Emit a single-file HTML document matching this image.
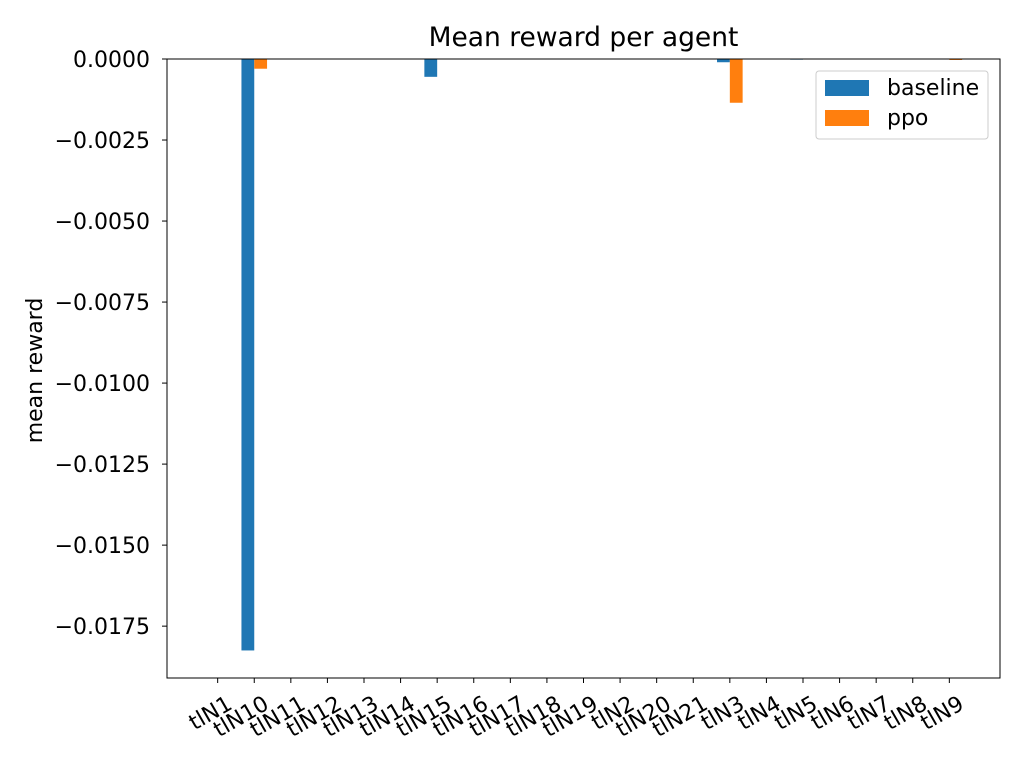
<!DOCTYPE html>
<html><head><meta charset="utf-8"><style>
body{margin:0;background:#fff;font-family:"DejaVu Sans","Liberation Sans",sans-serif;}
</style></head><body>
<svg id="chart" width="1024" height="768" xmlns="http://www.w3.org/2000/svg">
<rect width="1024" height="768" fill="#fff"/>
<g id="plot"></g>
</svg>
<script>
const categories=["tlN1","tlN10","tlN11","tlN12","tlN13","tlN14","tlN15","tlN16","tlN17","tlN18","tlN19","tlN2","tlN20","tlN21","tlN3","tlN4","tlN5","tlN6","tlN7","tlN8","tlN9"];
const baseline=[0,-0.01825,0,0,0,0,-0.00055,0,0,0,0,0,0,0,-0.0001,0,-0.00002,0,0,0,0];
const ppo=[0,-0.0003,0,0,0,0,0,0,0,0,0,0,0,0,-0.00135,0,0,0,0,0,-0.00003];
const yTicks=[0,-0.0025,-0.005,-0.0075,-0.01,-0.0125,-0.015,-0.0175];
const yTickLabels=["0.0000","\u22120.0025","\u22120.0050","\u22120.0075","\u22120.0100","\u22120.0125","\u22120.0150","\u22120.0175"];

const L=167,R=1000,T=59,B=678;
const ns="http://www.w3.org/2000/svg";
const g=document.getElementById('plot');
const n=categories.length,bw=0.35;
const x0=-bw-0.05*(n-1+2*bw),x1=n-1+bw+0.05*(n-1+2*bw);
const X=v=>L+(v-x0)/(x1-x0)*(R-L);
const yMin=-0.0191,yMax=0;
const Y=v=>T+(yMax-v)/(yMax-yMin)*(B-T);
function el(t,a,txt){const e=document.createElementNS(ns,t);for(const k in a)e.setAttribute(k,a[k]);if(txt!==undefined)e.textContent=txt;g.appendChild(e);return e;}
const ppx=(X(1)-X(0))*bw;
const FS=22;
categories.forEach((c,i)=>{
  const b=el('rect',{x:X(i)-ppx,y:Y(0),width:ppx,height:Math.max(0,Y(baseline[i])-Y(0)),fill:'#1f77b4'});
  
  
  const p=el('rect',{x:X(i),y:Y(0),width:ppx,height:Math.max(0,Y(ppo[i])-Y(0)),fill:'#ff7f0e'});
  
  
  const tk=el('line',{x1:X(i),x2:X(i),y1:B,y2:B+5,stroke:'#000','stroke-width':1});
  
  
  const tx=X(i)+16,ty=B+30;
  const lb=el('text',{x:tx,y:ty,'font-size':FS,'text-anchor':'end',transform:`rotate(-30 ${tx} ${ty})`},c);
  
  
});
yTicks.forEach((v,i)=>{
  const tk=el('line',{x1:L-5,x2:L,y1:Y(v),y2:Y(v),stroke:'#000','stroke-width':1});
  
  
  const lb=el('text',{x:L-17,y:Y(v)+8,'font-size':FS,'text-anchor':'end'},yTickLabels[i]);
  
  
});
const fr=el('rect',{x:L,y:T,width:R-L,height:B-T,fill:'none',stroke:'#000','stroke-width':1});


const ti=el('text',{x:(L+R)/2,y:46,'font-size':26.5,'text-anchor':'middle'},'Mean reward per agent');


const yc=(T+B)/2+2;
const yl=el('text',{x:42,y:yc,'font-size':FS,'text-anchor':'middle',transform:`rotate(-90 42 ${yc})`},'mean reward');


const lg=el('rect',{x:816,y:71,width:172,height:68,rx:3,fill:'#fff',stroke:'#ccc','stroke-width':1});


[['baseline','#1f77b4',88],['ppo','#ff7f0e',118]].forEach(([t,c,y])=>{
  const s=el('rect',{x:825,y:y-8,width:44,height:16,fill:c});
  
  
  const tt=el('text',{x:887,y:y+7,'font-size':FS},t);
  
  
});
</script>
</body></html>
